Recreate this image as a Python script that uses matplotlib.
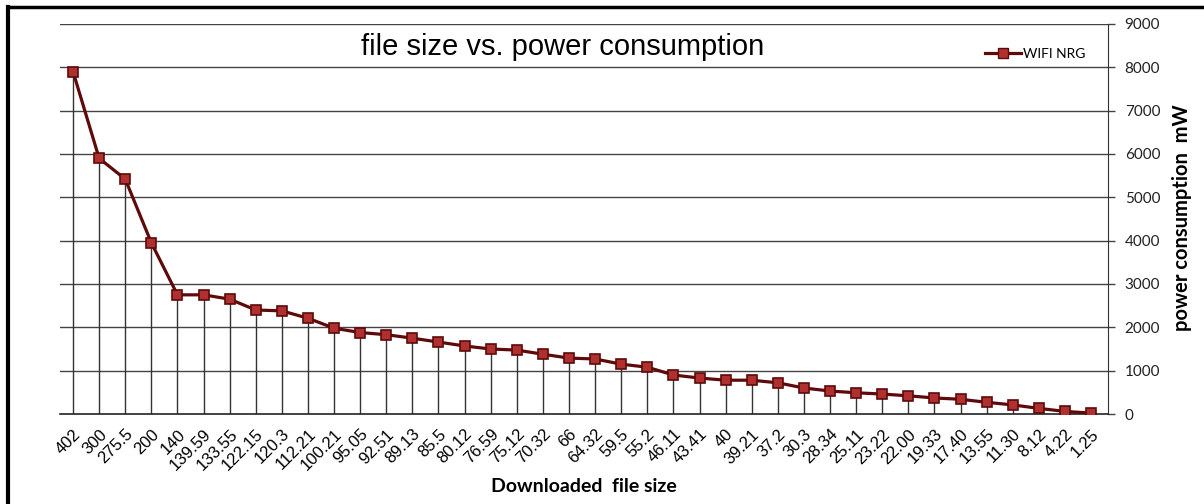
import matplotlib.pyplot as plt
from matplotlib.lines import Line2D
import numpy as np

# Downloaded file sizes (category labels, in plotted order)
file_sizes = ["402", "300", "275.5", "200", "140", "139.59", "133.55", "122.15",
              "120.3", "112.21", "100.21", "95.05", "92.51", "89.13", "85.5",
              "80.12", "76.59", "75.12", "70.32", "66", "64.32", "59.5", "55.2",
              "46.11", "43.41", "40", "39.21", "37.2", "30.3", "28.34", "25.11",
              "23.22", "22.00", "19.33", "17.40", "13.55", "11.30", "8.12",
              "4.22", "1.25"]

# WIFI NRG power consumption (mW)
wifi_nrg = [7900, 5900, 5420, 3950, 2750, 2750, 2650, 2400, 2380, 2210,
            1980, 1880, 1830, 1750, 1660, 1570, 1500, 1475, 1380, 1290,
            1270, 1150, 1080, 900, 830, 780, 780, 720, 600, 530,
            490, 460, 420, 370, 340, 270, 210, 130, 60, 20]

y_ticks = [0, 1000, 2000, 3000, 4000, 5000, 6000, 7000, 8000, 9000]

line_col = "#5e0a0a"
face_col = "#b03030"

fig = plt.figure(figsize=(12.04, 5.04), dpi=100)
ax = fig.add_axes([60 / 1204, 1 - 414 / 504, 1048 / 1204, 390 / 504])

x = np.arange(len(file_sizes))

# horizontal gridlines
for v in y_ticks[1:]:
    ax.axhline(v, color="#444444", lw=1.0, zorder=1)

# drop lines from each point to the axis
ax.vlines(x, 0, wifi_nrg, color="#333333", lw=1.0, zorder=2)

ax.plot(x, wifi_nrg, color=line_col, lw=2.3, marker="s", markersize=7.5,
        markerfacecolor=face_col, markeredgecolor=line_col, markeredgewidth=1.2,
        zorder=3)

ax.set_xlim(-0.5, 39.65)
ax.set_ylim(0, 9000)

ax.set_xticks(x)
ax.set_xticklabels(file_sizes, rotation=45, ha="right", rotation_mode="anchor",
                   fontsize=12, family="Liberation Sans")
ax.tick_params(axis="x", length=0, pad=9)

ax.yaxis.tick_right()
ax.set_yticks(y_ticks)
ax.set_yticklabels([str(v) for v in y_ticks], fontsize=11, family="Lato",
                   color="#222222")
ax.tick_params(axis="y", length=5, width=1, color="#444444", pad=7)

for s in ["top", "left"]:
    ax.spines[s].set_visible(False)
ax.spines["right"].set_color("#333333")
ax.spines["bottom"].set_color("#222222")
ax.spines["bottom"].set_linewidth(1.2)

ax.text(0.48, 0.941, "file size vs. power consumption", transform=ax.transAxes,
        ha="center", va="center", fontsize=21, family="Liberation Sans")

fig.text(584 / 1204, 1 - 487 / 504, "Downloaded  file size", ha="center",
         va="center", fontsize=14, fontweight="bold", family="Lato")
fig.text(1182 / 1204, 1 - 218 / 504, "power consumption  mW", ha="center",
         va="center", rotation=90, fontsize=14.5, fontweight="bold",
         family="Lato")

handle = Line2D([], [], color=line_col, lw=2.3, marker="s", markersize=7,
                markerfacecolor=face_col, markeredgecolor=line_col)
ax.legend([handle], ["WIFI NRG"], loc="upper right", bbox_to_anchor=(0.99, 0.97),
          frameon=False, prop={"family": "Lato", "size": 10}, handlelength=2.6,
          handletextpad=0.1)

# outer frame around the chart
fig.add_artist(Line2D([8 / 1204, 8 / 1204], [0, 1 - 7 / 504], color="black",
                      lw=3, transform=fig.transFigure))
fig.add_artist(Line2D([8 / 1204, 1], [1 - 7 / 504, 1 - 7 / 504], color="black",
                      lw=2.5, transform=fig.transFigure))

fig.savefig("out.png", dpi=100)
